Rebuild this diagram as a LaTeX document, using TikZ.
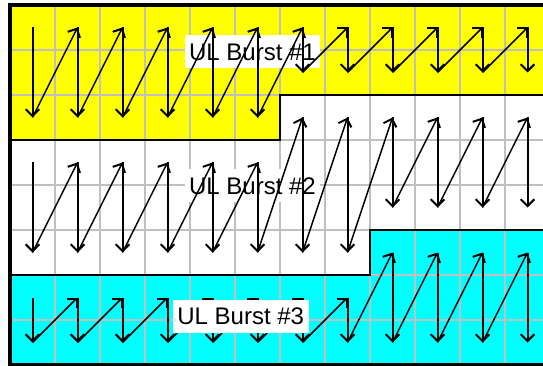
\documentclass[tikz,border=0pt]{standalone}
\usepackage{fontspec}
\setmainfont{Liberation Sans}
\usetikzlibrary{arrows.meta}
\definecolor{gridgray}{RGB}{192,192,192}
\definecolor{bandyellow}{RGB}{255,255,0}
\definecolor{bandcyan}{RGB}{0,255,255}
\begin{document}
\begin{tikzpicture}[x=1pt,y=-1pt,
  gridline/.style={draw=gridgray,line width=1.7pt},
  bandline/.style={draw=black,line width=2.3pt},
  frameline/.style={draw=black,line width=4.4pt},
  downarrow/.style={line width=2pt,-{Straight Barb[length=6.8pt,width=13.6pt]}},
  diagarrow/.style={line width=1.45pt,-{Straight Barb[length=6.8pt,width=13.6pt,line width=2pt]}},
  burstlabel/.style={fill=white,inner xsep=4.5pt,inner ysep=0pt,minimum height=33pt,
    text height=17.2pt,text depth=0pt,font=\fontsize{24}{28}\selectfont}
]
\useasboundingbox (0,0) rectangle (543,366);
\clip (0,0) rectangle (543,366);
% band fills
\fill[bandyellow] (10,5) -- (550,5) -- (550,95) -- (280,95) -- (280,140) -- (10,140) -- cycle;
\fill[white] (10,140) -- (280,140) -- (280,95) -- (550,95) -- (550,230) -- (370,230) -- (370,275) -- (10,275) -- cycle;
\fill[bandcyan] (10,275) -- (370,275) -- (370,230) -- (550,230) -- (550,365) -- (10,365) -- cycle;
% grid
\foreach \gx in {55,100,...,505} { \draw[gridline] (\gx,5) -- (\gx,365); }
\foreach \gy in {50,95,...,320} { \draw[gridline] (10,\gy) -- (550,\gy); }
% band boundaries
\draw[bandline] (10,140) -- (280,140) -- (280,95) -- (550,95);
\draw[bandline] (10,275) -- (370,275) -- (370,230) -- (550,230);
% frame
\draw[frameline] (550,5) -- (10,5) -- (10,365) -- (550,365);
% labels under the arrows
\node[burstlabel] (lab1) at (252.5,51.8) {UL Burst \#1};
\node[burstlabel] (lab2) at (252.5,185.5) {UL Burst \#2};
% arrow end points
\foreach \i in {0,...,11} {
  \pgfmathsetmacro\cx{32.5+45*\i}
  \pgfmathsetmacro\bA{\i<6 ? 117.5 : 72.5}
  \pgfmathsetmacro\tB{\i<6 ? 162.5 : 117.5}
  \pgfmathsetmacro\bB{\i<8 ? 252.5 : 207.5}
  \pgfmathsetmacro\tC{\i<8 ? 297.5 : 252.5}
  \coordinate (ta-\i) at (\cx,27.5);
  \coordinate (ba-\i) at (\cx,\bA);
  \coordinate (tb-\i) at (\cx,\tB);
  \coordinate (bb-\i) at (\cx,\bB);
  \coordinate (tc-\i) at (\cx,\tC);
  \coordinate (bc-\i) at (\cx,342.5);
}
% arrows
\foreach \i in {0,...,11} {
  \draw[downarrow] (ta-\i) -- (ba-\i);
  \draw[downarrow] (tb-\i) -- (bb-\i);
  \draw[downarrow] (tc-\i) -- (bc-\i);
}
\foreach \i [evaluate=\i as \j using int(\i+1)] in {0,...,10} {
  \draw[diagarrow] (ba-\i) -- (ta-\j);
  \draw[diagarrow] (bb-\i) -- (tb-\j);
  \draw[diagarrow] (bc-\i) -- (tc-\j);
}
% label over the arrows
\node[burstlabel] (lab3) at (240.7,316.3) {UL Burst \#3};
\end{tikzpicture}
\end{document}
